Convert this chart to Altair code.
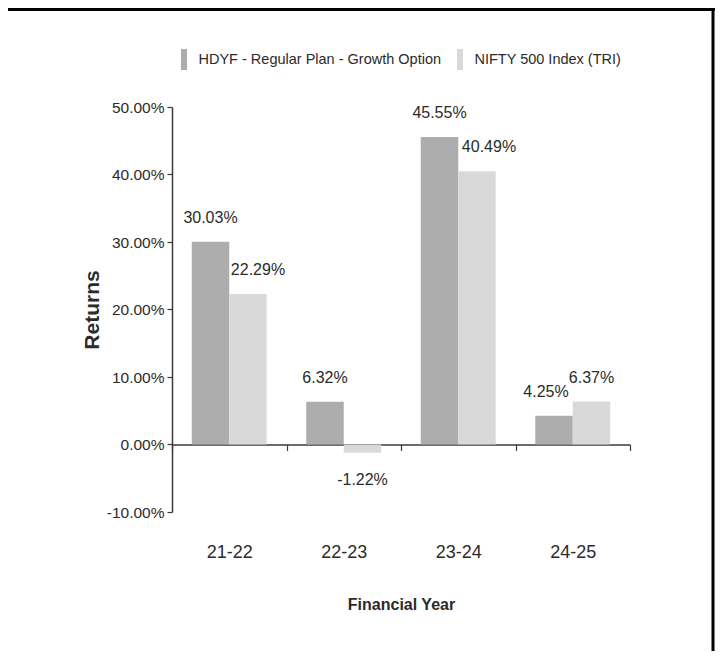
import altair as alt
import pandas as pd

years = ["21-22", "22-23", "23-24", "24-25"]
series = ["HDYF - Regular Plan - Growth Option", "NIFTY 500 Index (TRI)"]
hdyf = [30.03, 6.32, 45.55, 4.25]
nifty = [22.29, -1.22, 40.49, 6.37]
y_ticks = [-0.1, 0.0, 0.1, 0.2, 0.3, 0.4, 0.5]
colors = ["#adadad", "#d9d9d9"]

rows = []
for i, y in enumerate(years):
    for s, vals in zip(series, [hdyf, nifty]):
        v = vals[i]
        rows.append({"year": y, "series": s, "value": v / 100.0,
                     "label": f"{v:.2f}%", "key": f"{y}|{s}"})
df = pd.DataFrame(rows)

FONT = "Liberation Sans, Arial, Helvetica, sans-serif"
TXT = "#2b2b2b"

base = alt.Chart(df)

x_enc = alt.X("year:N", sort=years,
              scale=alt.Scale(paddingInner=0, paddingOuter=0),
              axis=alt.Axis(title="Financial Year", labelAngle=0, offset=-67.5,
                            tickBand="extent", tickSize=6, labelPadding=93,
                            titlePadding=35, labelFont=FONT, labelFontSize=18,
                            labelColor=TXT, titleFont=FONT, titleFontSize=16,
                            titleFontWeight="bold", titleColor=TXT,
                            domainColor="#3a3a3a", tickColor="#3a3a3a",
                            domainWidth=1.5, tickWidth=1.2))
xo_enc = alt.XOffset("series:N", sort=series,
                     scale=alt.Scale(paddingInner=0, paddingOuter=0.527))

bars = base.mark_bar().encode(
    x=x_enc,
    xOffset=xo_enc,
    y=alt.Y("value:Q",
            scale=alt.Scale(domain=[-0.1, 0.5], nice=False, zero=False),
            axis=alt.Axis(title="Returns", values=y_ticks, grid=False,
                          labelExpr="replace(format(datum.value, '.2%'), '\u2212', '-')",
                          tickSize=5, labelPadding=3, labelFont=FONT,
                          labelFontSize=15.5, labelColor=TXT,
                          titleFont=FONT,
                          titleFontSize=21, titleFontWeight="bold",
                          titleColor=TXT, titlePadding=4,
                          domainColor="#3a3a3a", tickColor="#3a3a3a",
                          domainWidth=1.5, tickWidth=1.2)),
    color=alt.Color("series:N", sort=series,
                    scale=alt.Scale(domain=series, range=colors),
                    legend=alt.Legend(title=None, orient="none", direction="horizontal",
                                      legendX=1.5, legendY=-58, padding=0,
                                      symbolType="M-0.286,-1H0.286V1H-0.286Z",
                                      symbolSize=441, symbolStrokeWidth=0,
                                      labelOffset=4, columnPadding=8,
                                      labelLimit=400,
                                      labelFont=FONT, labelFontSize=14.5,
                                      labelColor=TXT)),
)

text_common = dict(font=FONT, fontSize=16, color=TXT, baseline="middle", align="center")

def label_layer(cond, dy, dx=0):
    return base.transform_filter(cond).mark_text(dy=dy, dx=dx, **text_common).encode(
        x=alt.X("year:N", sort=years), xOffset=alt.XOffset("series:N", sort=series),
        y="value:Q", text="label:N")

pos_default = ("datum.value >= 0 && datum.key != '21-22|NIFTY 500 Index (TRI)'"
               " && datum.key != '23-24|NIFTY 500 Index (TRI)'"
               " && datum.key != '24-25|HDYF - Regular Plan - Growth Option'")
labels = alt.layer(
    label_layer(pos_default, -24),
    label_layer("datum.key == '21-22|NIFTY 500 Index (TRI)'", -24, 10),
    label_layer("datum.key == '23-24|NIFTY 500 Index (TRI)'", -24, 12),
    label_layer("datum.key == '24-25|HDYF - Regular Plan - Growth Option'", -24, -8),
    label_layer("datum.value < 0", 27),
)

frame_data = alt.Data(values=[{}])
top_rule = alt.Chart(frame_data).mark_rule(color="black", strokeWidth=3).encode(
    x=alt.value(-164), x2=alt.value(543), y=alt.value(-97.5))
right_rule = alt.Chart(frame_data).mark_rule(color="black", strokeWidth=3).encode(
    x=alt.value(541), y=alt.value(-99), y2=alt.value(545))

chart = alt.layer(bars, labels, top_rule, right_rule).properties(
    width=458, height=405,
    autosize=alt.AutoSizeParams(type="none"),
    padding={"left": 164, "top": 99, "right": 85, "bottom": 139},
).configure_view(stroke=None)

chart.save("out.html", embed_options={"renderer": "svg", "actions": False})
